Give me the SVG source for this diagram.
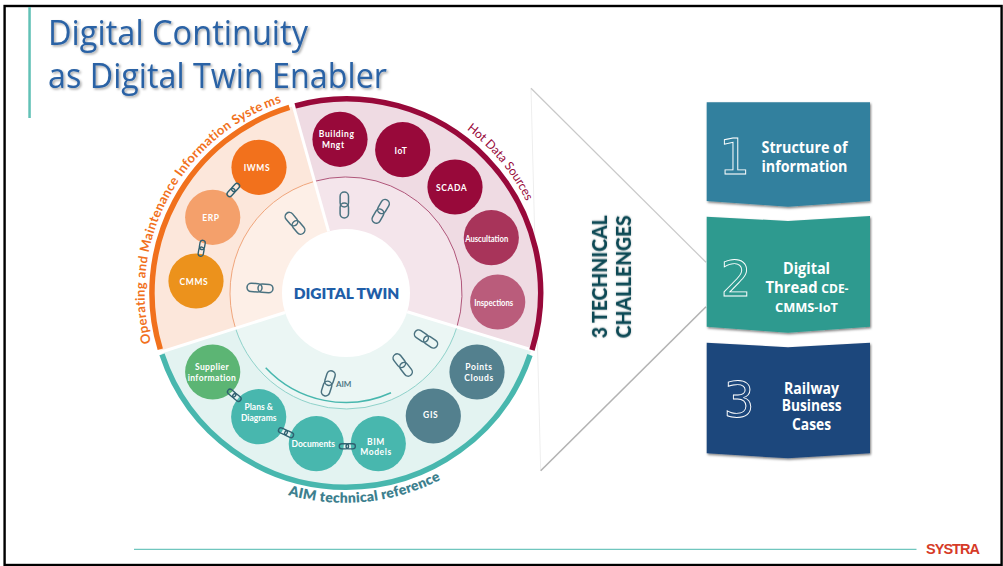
<svg xmlns="http://www.w3.org/2000/svg" width="1003" height="566" viewBox="0 0 1003 566">
<style>
text{font-family:"Lato","Open Sans",sans-serif}
.title{font-family:"Open Sans","Noto Sans",sans-serif;font-size:34px;fill:#2a62a5;filter:url(#ts)}
.lb{font-size:8.5px;font-weight:700;fill:#fff;text-anchor:middle;letter-spacing:.6px}
.lc{font-size:8.5px;font-weight:700;fill:#fff;text-anchor:middle}
.box{font-family:"Open Sans","Noto Sans",sans-serif;font-weight:700;fill:#fff;font-size:16px}
.sm{font-size:13px}
.num{font-family:"DejaVu Sans",sans-serif;font-size:49px;fill:none;stroke:#fff;stroke-width:.9;text-anchor:middle}
.tc{font-size:21px;font-weight:900;fill:#0f4a55;text-anchor:middle;filter:url(#ts2)}
.bigl{stroke:#4a7280;stroke-width:1.5;fill:none}
.smal{stroke:#2f6070;stroke-width:2.2;fill:none}
.ring{fill:none;stroke-width:5.5}
.inner{fill:none;stroke-width:1}
.div{stroke:#fff;stroke-width:3}
</style>
<defs>
<filter id="ts" x="-5%" y="-10%" width="110%" height="125%"><feDropShadow dx="1.5" dy="1.5" stdDeviation="1" flood-color="#000" flood-opacity=".35"/></filter>
<filter id="ts2" x="-10%" y="-10%" width="120%" height="125%"><feDropShadow dx="0" dy="0" stdDeviation=".8" flood-color="#000" flood-opacity=".25"/></filter>
<filter id="bs" x="-5%" y="-5%" width="110%" height="110%"><feDropShadow dx="1" dy="1.5" stdDeviation=".8" flood-color="#000" flood-opacity=".5"/></filter>
<g id="link"><rect x="-13" y="-4.2" width="15" height="8.4" rx="4.2"/><rect x="-2" y="-4.2" width="15" height="8.4" rx="4.2"/></g>
<path id="pOrange" d="M151 343 A201 201 0 0 1 283 102"/>
<path id="pHot" d="M466.7 129.3 A201.5 201.5 0 0 1 534 219"/>
<path id="pAim" d="M288 495 A210 210 0 0 0 440 480"/>
</defs>
<rect width="1003" height="566" fill="#fff"/>
<rect x="4.6" y="6" width="997" height="559" fill="#fff" stroke="#000" stroke-width="2.4"/>
<rect x="28.3" y="7" width="2.5" height="111" fill="#62c1b6"/>
<text class="title" x="48" y="45" textLength="260" lengthAdjust="spacingAndGlyphs">Digital Continuity</text>
<text class="title" x="48" y="88" textLength="339" lengthAdjust="spacingAndGlyphs">as Digital Twin Enabler</text>

<g id="challenge-wedge">
<polygon points="531,88.3 706,262.3 706,306.7 540.7,470.7" fill="#fff"/>
<line x1="531" y1="88.3" x2="540.7" y2="470.7" stroke="#eeeeee" stroke-width="1"/>
<line x1="531" y1="88.3" x2="706" y2="262.3" stroke="#c9c9c9" stroke-width="1.2"/>
<line x1="540.7" y1="470.7" x2="706" y2="306.7" stroke="#b3b3b3" stroke-width="1.6"/>
<text class="tc" transform="translate(607 276.7) rotate(-90)" textLength="123" lengthAdjust="spacingAndGlyphs">3 TECHNICAL</text>
<text class="tc" transform="translate(631 276.7) rotate(-90)" textLength="123" lengthAdjust="spacingAndGlyphs">CHALLENGES</text>
</g>

<g id="wheel">
<path d="M346 293 L161.1 352 A194 194 0 0 1 293.4 106.3Z" fill="#fce7db"/>
<path d="M346 293 L293.4 106.3 A194 194 0 0 1 531.5 349.8Z" fill="#efdbe3"/>
<path d="M346 293 L531.5 349.8 A194 194 0 0 1 161.1 352Z" fill="#e3f3f1"/>
<path d="M346 293 L235.5 328.3 A116 116 0 0 1 314.6 181.3Z" fill="#fdefe7"/>
<path d="M346 293 L314.6 181.3 A116 116 0 0 1 456.9 327Z" fill="#f4e5eb"/>
<path d="M346 293 L456.9 327 A116 116 0 0 1 235.5 328.3Z" fill="#ebf6f4"/>
<path class="inner" d="M235.5 328.3 A116 116 0 0 1 314.6 181.3" stroke="#f0a67c"/>
<path class="inner" d="M314.6 181.3 A116 116 0 0 1 456.9 327" stroke="#b0567a"/>
<path class="inner" d="M456.9 327 A116 116 0 0 1 235.5 328.3" stroke="#8fd2ca"/>
<line class="div" x1="292.6" y1="103.4" x2="328.6" y2="231.4"/>
<line class="div" x1="157.3" y1="353.2" x2="285" y2="312.5"/>
<line class="div" x1="535.3" y1="351" x2="407.2" y2="311.7"/>
<path class="ring" d="M160.3 349.3 A194 194 0 0 1 289.4 107.4" stroke="#f1711d"/>
<path class="ring" d="M295.2 105.8 A194 194 0 0 1 532 350" stroke="#98093a"/>
<path class="ring" d="M530 355 A194 194 0 0 1 162 354.4" stroke="#48b7ae"/>
<path d="M265.7 367.7 A109.5 109.5 0 0 0 391 392.7" fill="none" stroke="#48b7ae" stroke-width="1.5"/>
<text font-size="13" font-weight="700" fill="#f1711d" letter-spacing=".35"><textPath href="#pOrange">Operating and Maintenance Information Syste<tspan dx="2">ms</tspan></textPath></text>
<text font-size="12.2" fill="#98093a"><textPath href="#pHot">Hot Data Sources</textPath></text>
<text font-size="14" font-weight="800" fill="#3d7f8e" letter-spacing=".25"><textPath href="#pAim">AIM technical reference</textPath></text>
<text x="343.7" y="386.5" font-size="8" font-weight="700" fill="#4f7885" text-anchor="middle">AIM</text>
</g>

<g id="digital-twin"><circle cx="346" cy="293" r="64" fill="#fff"/><text x="346.5" y="299" font-size="15.5" font-weight="800" fill="#1f5ea8" text-anchor="middle">DIGITAL TWIN</text></g>

<g id="iwms"><circle cx="259" cy="167.3" r="27.6" fill="#f2711c"/><text class="lb" x="257" y="171">IWMS</text></g>
<g id="erp"><circle cx="212.7" cy="217.3" r="27.6" fill="#f4a06b"/><text class="lb" x="211" y="221">ERP</text></g>
<g id="cmms"><circle cx="196" cy="281" r="27.6" fill="#ec921c"/><text class="lb" x="194" y="285">CMMS</text></g>
<g id="building"><circle cx="340" cy="139.3" r="27.6" fill="#98093a"/><text class="lb" x="336.7" y="137">Building</text><text class="lb" x="333.3" y="148">Mngt</text></g>
<g id="iot"><circle cx="402.7" cy="149.7" r="27.6" fill="#98093a"/><text class="lb" x="401" y="154">IoT</text></g>
<g id="scada"><circle cx="455" cy="187" r="27.6" fill="#98093a"/><text class="lb" x="451.7" y="191">SCADA</text></g>
<g id="auscultation"><circle cx="491.3" cy="237.7" r="27.6" fill="#a8345a"/><text class="lc" x="486.7" y="241.7" textLength="43" lengthAdjust="spacingAndGlyphs">Auscultation</text></g>
<g id="inspections"><circle cx="497.7" cy="302" r="27.6" fill="#ba5c7b"/><text class="lc" x="493.7" y="306" textLength="39" lengthAdjust="spacingAndGlyphs">Inspections</text></g>
<g id="points-clouds"><circle cx="477" cy="372" r="27.6" fill="#53808e"/><text class="lb" x="479" y="370">Points</text><text class="lb" x="479" y="381">Clouds</text></g>
<g id="gis"><circle cx="433.3" cy="416" r="27.6" fill="#53808e"/><text class="lb" x="430.7" y="417.7">GIS</text></g>
<g id="bim"><circle cx="378.3" cy="443.7" r="27.6" fill="#48b7ae"/><text class="lb" x="376" y="445">BIM</text><text class="lb" x="376" y="455">Models</text></g>
<g id="documents"><circle cx="316.3" cy="443.7" r="27.6" fill="#48b7ae"/><text class="lc" x="313.3" y="447">Documents</text></g>
<g id="plans"><circle cx="258.7" cy="416.7" r="27.6" fill="#48b7ae"/><text class="lc" x="258.7" y="410">Plans &amp;</text><text class="lc" x="258.7" y="421">Diagrams</text></g>
<g id="supplier"><circle cx="212.7" cy="372" r="27.6" fill="#5cb574"/><text class="lb" x="212" y="370" style="letter-spacing:.4px">Supplier</text><text class="lb" x="212" y="381" style="letter-spacing:.4px">information</text></g>

<g id="connectors">
<use href="#link" class="bigl" transform="translate(295 223.3) rotate(50)"/>
<use href="#link" class="bigl" transform="translate(260 288) rotate(4)"/>
<use href="#link" class="bigl" transform="translate(344.3 205) rotate(90)"/>
<use href="#link" class="bigl" transform="translate(380.7 211.3) rotate(-60)"/>
<use href="#link" class="bigl" transform="translate(426 339) rotate(33)"/>
<use href="#link" class="bigl" transform="translate(402.7 365) rotate(52)"/>
<use href="#link" class="bigl" transform="translate(328.3 383.3) rotate(-72)"/>
<use href="#link" class="smal" transform="translate(233.3 190) rotate(-48) scale(.62)"/>
<use href="#link" class="smal" transform="translate(201.7 248.3) rotate(-80) scale(.62)"/>
<use href="#link" class="smal" transform="translate(234.3 395.3) rotate(40) scale(.62)"/>
<use href="#link" class="smal" transform="translate(286 432.7) rotate(25) scale(.62)"/>
<use href="#link" class="smal" transform="translate(347.3 446.3) scale(.62)"/>
</g>

<g id="challenge-1"><path d="M706.7 102.3 H870 V201 L788 206.7 L706.7 201Z" fill="#31809e" filter="url(#bs)"/><text class="num" x="734.5" y="174">1</text><text class="box" x="761.5" y="153.3" textLength="86" lengthAdjust="spacingAndGlyphs">Structure of</text><text class="box" x="761.5" y="172.3" textLength="86" lengthAdjust="spacingAndGlyphs">information</text></g>
<g id="challenge-2"><path d="M706.7 216.7 L788 221 L870 216 V326.7 L788 332.7 L706.7 326.7Z" fill="#2f9a8f" filter="url(#bs)"/><text class="num" x="736" y="296">2</text><text class="box" x="783" y="274" textLength="47" lengthAdjust="spacingAndGlyphs">Digital</text><text class="box" x="765.5" y="292.7" textLength="83" lengthAdjust="spacingAndGlyphs">Thread <tspan class="sm">CDE-</tspan></text><text class="box sm" x="775" y="311.7" textLength="63" lengthAdjust="spacingAndGlyphs">CMMS-IoT</text></g>
<g id="challenge-3"><path d="M706.7 342.7 L788 347.3 L870 342.7 V453.3 L788 458.3 L706.7 453.3Z" fill="#1f477c" filter="url(#bs)"/><text class="num" x="739" y="416.7">3</text><text class="box" x="784" y="394.3" textLength="55" lengthAdjust="spacingAndGlyphs">Railway</text><text class="box" x="781.7" y="410.7" textLength="60" lengthAdjust="spacingAndGlyphs">Business</text><text class="box" x="792" y="430" textLength="39" lengthAdjust="spacingAndGlyphs">Cases</text></g>

<g id="footer"><line x1="134" y1="549.3" x2="916.5" y2="549.3" stroke="#4db8ae" stroke-width="1"/><text x="926" y="554" style="font-family:'Liberation Sans',sans-serif" font-size="14.5" font-weight="700" fill="#d63b27" textLength="54">SYSTRA</text></g>
</svg>
